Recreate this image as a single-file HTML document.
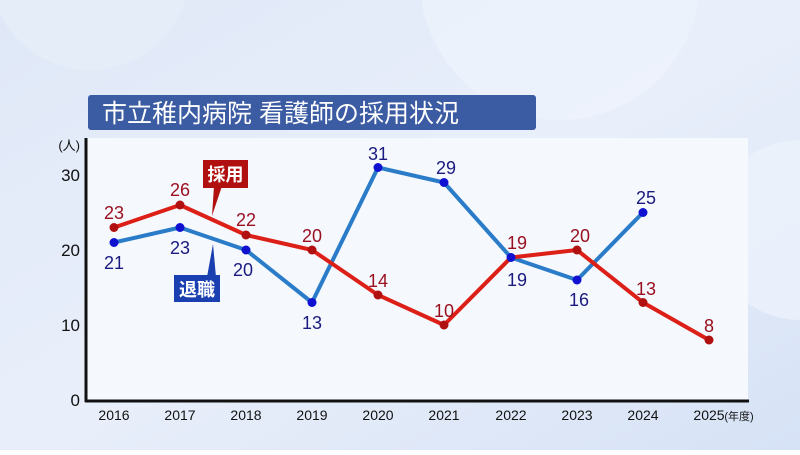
<!DOCTYPE html>
<html><head><meta charset="utf-8"><style>
body{margin:0;width:800px;height:450px;overflow:hidden;font-family:"Liberation Sans","Noto Sans CJK JP",sans-serif;}
</style></head><body>
<svg width="800" height="450" xmlns="http://www.w3.org/2000/svg" font-family="Liberation Sans, Noto Sans CJK JP, sans-serif">
<defs>
<linearGradient id="bg" x1="0" y1="0" x2="1" y2="1">
<stop offset="0" stop-color="#dfe8f8"/><stop offset="0.5" stop-color="#e9effa"/><stop offset="1" stop-color="#d6e2f6"/>
</linearGradient>
</defs>
<rect width="800" height="450" fill="url(#bg)"/>
<circle cx="560" cy="-20" r="140" fill="#eef3fc" opacity="0.7"/>
<circle cx="800" cy="230" r="90" fill="#eef3fc" opacity="0.7"/>
<circle cx="90" cy="-30" r="100" fill="#e6edf9" opacity="0.8"/>
<rect x="86" y="138" width="662" height="263" fill="#f5f8fd"/>
<rect x="88" y="95" width="448" height="35" rx="3" fill="#3b5ba3"/>
<text x="102" y="122" font-size="25" fill="#fff">市立稚内病院 看護師の採用状況</text>
<line x1="86" y1="138" x2="86" y2="402" stroke="#111" stroke-width="3"/>
<line x1="85" y1="401" x2="749" y2="401" stroke="#111" stroke-width="3"/>
<g font-size="17" fill="#111" text-anchor="end">
<text x="80" y="150" font-size="13">(人)</text>
<text x="80" y="181">30</text><text x="80" y="256">20</text><text x="80" y="331">10</text><text x="80" y="406">0</text>
</g>
<g font-size="14" fill="#111" text-anchor="middle">
<text x="114" y="420">2016</text><text x="180" y="420">2017</text><text x="246" y="420">2018</text><text x="312" y="420">2019</text><text x="378" y="420">2020</text><text x="444" y="420">2021</text><text x="511" y="420">2022</text><text x="577" y="420">2023</text><text x="643" y="420">2024</text><text x="709" y="420">2025</text>
<text x="739" y="420" font-size="11">(年度)</text>
</g>
<polyline fill="none" stroke="#2a7cc8" stroke-width="4" stroke-linejoin="round" points="114,242.5 180,227.5 246,250 312,302.5 378,167.5 444,182.5 511,257.5 577,280 643,212.5"/>
<polyline fill="none" stroke="#dc2018" stroke-width="4" stroke-linejoin="round" points="114,227.5 180,205 246,235 312,250 378,295 444,325 511,257.5 577,250 643,302.5 709,340"/>
<g fill="#1010d0"><circle cx="114" cy="242.5" r="4.5"/><circle cx="180" cy="227.5" r="4.5"/><circle cx="246" cy="250" r="4.5"/><circle cx="312" cy="302.5" r="4.5"/><circle cx="378" cy="167.5" r="4.5"/><circle cx="444" cy="182.5" r="4.5"/><circle cx="511" cy="257.5" r="4.5"/><circle cx="577" cy="280" r="4.5"/><circle cx="643" cy="212.5" r="4.5"/></g>
<g fill="#b01010"><circle cx="114" cy="227.5" r="4.5"/><circle cx="180" cy="205" r="4.5"/><circle cx="246" cy="235" r="4.5"/><circle cx="312" cy="250" r="4.5"/><circle cx="378" cy="295" r="4.5"/><circle cx="444" cy="325" r="4.5"/><circle cx="577" cy="250" r="4.5"/><circle cx="643" cy="302.5" r="4.5"/><circle cx="709" cy="340" r="4.5"/></g>
<g font-size="18" fill="#9a1020" text-anchor="middle">
<text x="114" y="219">23</text><text x="180" y="196">26</text><text x="246" y="226">22</text><text x="312" y="242">20</text><text x="378" y="287">14</text><text x="444" y="317">10</text><text x="517" y="249">19</text><text x="580" y="242">20</text><text x="646" y="295">13</text><text x="709" y="332">8</text>
</g>
<g font-size="18" fill="#1a1a80" text-anchor="middle">
<text x="114" y="269">21</text><text x="180" y="254">23</text><text x="243" y="276">20</text><text x="312" y="329">13</text><text x="378" y="160">31</text><text x="446" y="174">29</text><text x="517" y="286">19</text><text x="579" y="306">16</text><text x="646" y="204">25</text>
</g>
<polygon points="214,186 222,186 212,216" fill="#b01010"/>
<rect x="203" y="160" width="45" height="28" fill="#b01010"/>
<text x="225.5" y="181" font-size="18" fill="#fff" text-anchor="middle" font-weight="bold">採用</text>
<polygon points="207,277 216,277 213,244" fill="#1a3fb0"/>
<rect x="174" y="275" width="46" height="27" fill="#1a3fb0"/>
<text x="197" y="296" font-size="18" fill="#fff" text-anchor="middle" font-weight="bold">退職</text>
</svg>
</body></html>
